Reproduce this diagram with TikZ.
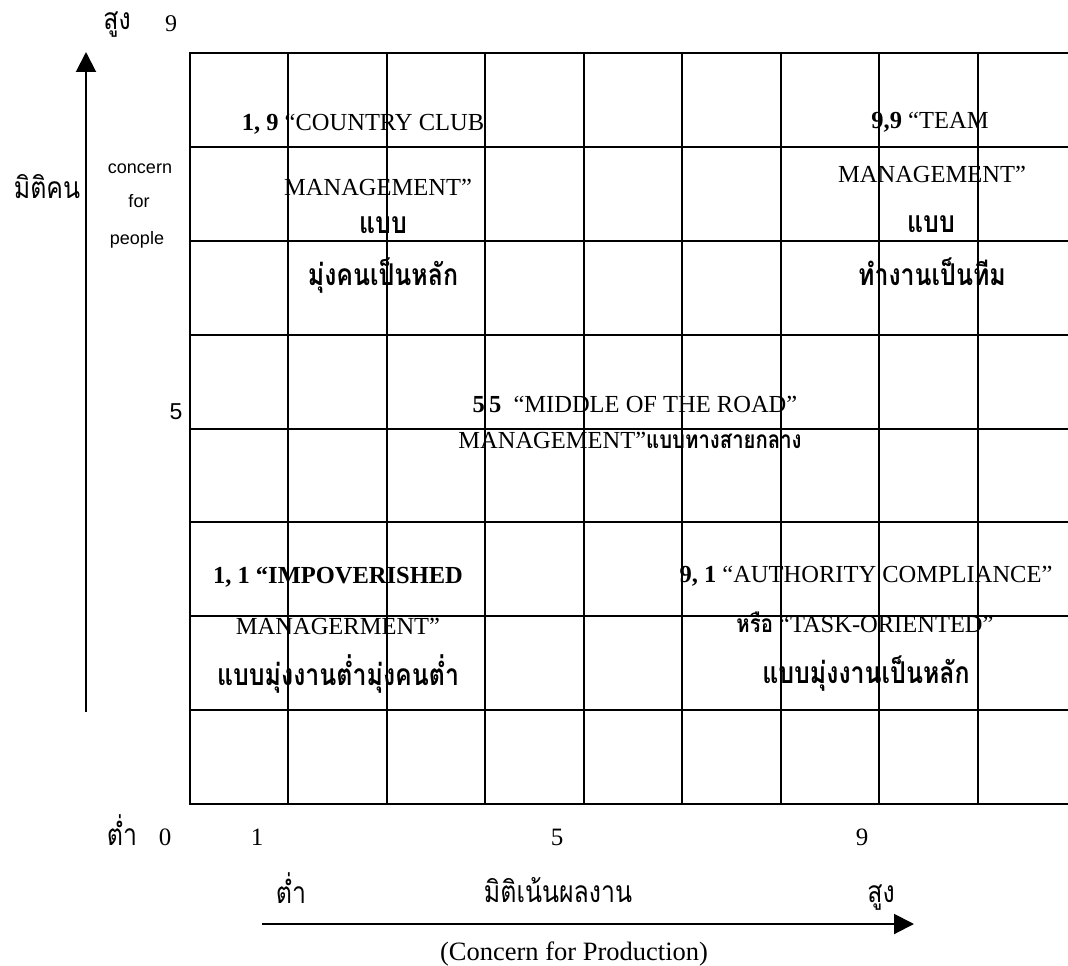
\documentclass[tikz,border=0pt]{standalone}
\usepackage{fontspec}
\usetikzlibrary{arrows.meta}
\setmainfont{Liberation Serif}
\newfontfamily\thaifont[Script=Thai,FakeStretch=0.83]{Loma}
\newfontfamily\labsans{Liberation Sans}
\tikzset{
  lbl/.style={inner sep=0pt, anchor=base},
  en/.style={lbl, font=\fontsize{24.5}{28}\selectfont},
  thb/.style={lbl, font=\thaifont\bfseries\fontsize{30}{34}\selectfont},
  thr/.style={lbl, font=\thaifont\fontsize{30}{34}\selectfont},
  num/.style={lbl, font=\fontsize{25}{28}\selectfont},
  side/.style={lbl, font=\labsans\fontsize{18}{21}\selectfont},
  gridline/.style={line width=2pt, black},
  axis/.style={line width=2pt, -{Triangle[width=20pt,length=20pt]}}
}
\newcommand{\thb}[1]{{\thaifont\bfseries #1}}
\begin{document}
\begin{tikzpicture}[x=1pt,y=-1pt]
\useasboundingbox (0,0) rectangle (1068,966);

% --- 1,9 country club corner
\node[en] (cc1) at (363,130) {\textbf{1, 9} “COUNTRY CLUB};
\node[en] (cc2) at (378,195) {MANAGEMENT”};
\node[thb] (cc3) at (383,233) {แบบ};
\node[thb] (cc4) at (383,285) {มุ่งคนเป็นหลัก};

% --- 9,9 team corner
\node[en] (tm1) at (930,128) {\textbf{9,9} “TEAM};
\node[en] (tm2) at (932,182) {MANAGEMENT”};
\node[thb] (tm3) at (931,232) {แบบ};
\node[thb] (tm4) at (932,285) {ทำงานเป็นทีม};

% --- 5,5 middle of the road
\node[en] (md1) at (635,412) {\textbf{5\,5}\enspace “MIDDLE OF THE ROAD”};
\node[en] (md2) at (630,448) {MANAGEMENT”\thb{แบบทางสายกลาง}};

% --- 1,1 impoverished
\node[en] (im1) at (338,583) {\textbf{1, 1 “IMPOVERISHED}};
\node[en] (im2) at (338,634) {MANAGERMENT”};
\node[thb] (im3) at (338,685) {แบบมุ่งงานต่ำมุ่งคนต่ำ};

% --- 9,1 authority compliance
\node[en] (au1) at (866,582) {\textbf{9, 1} “AUTHORITY COMPLIANCE”};
\node[en] (au2) at (865,632) {\thb{หรือ} “TASK-ORIENTED”};
\node[thb] (au3) at (866,683) {แบบมุ่งงานเป็นหลัก};

% --- 9 x 9 grid
\foreach \x in {190,288,387,485,584,682,781,879,978,1076}
  \draw[gridline] (\x,53) -- (\x,804);
\foreach \y in {53,147,241,335,429,522,616,710,804}
  \draw[gridline] (189,\y) -- (1077,\y);

% --- vertical axis (concern for people)
\coordinate (vy0) at (86,712);
\coordinate (vy1) at (86,52);
\draw[axis] (vy0) -- (vy1);
\node[thr] (yhi) at (117,30) {สูง};
\node[num, font=\fontsize{24}{26}\selectfont] (y9) at (171,32) {9};
\node[thr] (ylab) at (47,198) {มิติคน};
\node[side] (yc1) at (140,173) {concern};
\node[side] (yc2) at (139,207) {for};
\node[side] (yc3) at (137,244) {people};
\node[side, font=\labsans\fontsize{23}{26}\selectfont] (y5) at (176,419) {5};

% --- horizontal axis (concern for production)
\node[thr] (ylo) at (122,845) {ต่ำ};
\node[num] (x0) at (165,845) {0};
\node[num] (x1) at (257,845) {1};
\node[num] (x5) at (557,845) {5};
\node[num] (x9) at (862,845) {9};
\node[thr] (xlo) at (291,903) {ต่ำ};
\node[thr] (xlab) at (558,902) {มิติเน้นผลงาน};
\node[thr] (xhi) at (881,902) {สูง};
\coordinate (hx0) at (262,924);
\coordinate (hx1) at (914,924);
\draw[axis] (hx0) -- (hx1);
\node[lbl, font=\fontsize{26.5}{30}\selectfont] (xeng) at (574,960) {(Concern for Production)};
\end{tikzpicture}
\end{document}
